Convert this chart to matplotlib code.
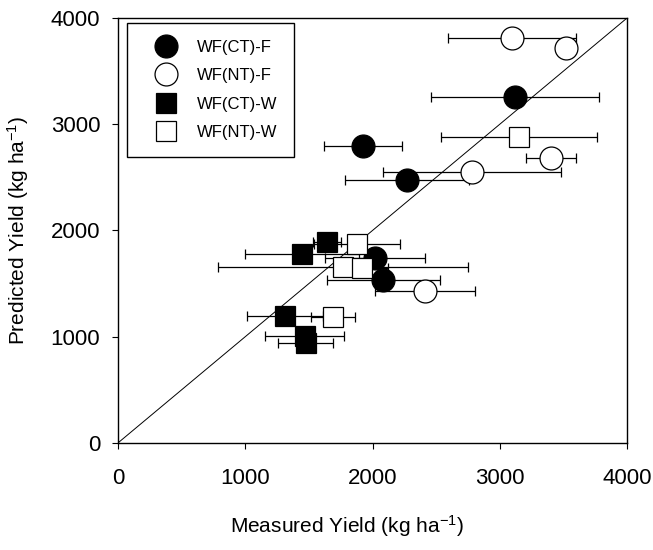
import matplotlib
matplotlib.use("Agg")
import matplotlib.pyplot as plt
from matplotlib.lines import Line2D

plt.rcParams['font.family'] = ['Liberation Sans', 'DejaVu Sans']
plt.rcParams['mathtext.default'] = 'regular'

# WF(CT)-F : filled circles
ct_f_x = [3120, 1925, 2271, 2020, 2083]
ct_f_y = [3257, 2795, 2475, 1741, 1534]
ct_f_err = [664, 307, 490, 393, 445]
# WF(NT)-F : open circles
nt_f_x = [3096, 3521, 3403, 2782, 2413]
nt_f_y = [3812, 3718, 2682, 2550, 1431]
nt_f_err = [500, 60, 193, 700, 390]
# WF(CT)-W : filled squares
ct_w_x = [1642, 1446, 1312, 1466, 1473]
ct_w_y = [1892, 1779, 1195, 1005, 935]
ct_w_err = [110, 450, 300, 310, 215]
# WF(NT)-W : open squares
nt_w_x = [3151, 1878, 1768, 1918, 1690]
nt_w_y = [2880, 1873, 1656, 1647, 1186]
nt_w_err = [613, 338, 982, 200, 172]

labels = ['WF(CT)-F', 'WF(NT)-F', 'WF(CT)-W', 'WF(NT)-W']
ticks = [0, 1000, 2000, 3000, 4000]

series = [
    (ct_f_x, ct_f_y, ct_f_err, 'o', 'black', 16.5),
    (nt_f_x, nt_f_y, nt_f_err, 'o', 'white', 16.5),
    (ct_w_x, ct_w_y, ct_w_err, 's', 'black', 14.5),
    (nt_w_x, nt_w_y, nt_w_err, 's', 'white', 14.5),
]

fig = plt.figure(figsize=(6.53, 5.5), dpi=100)
ax = fig.add_axes([0.181, 0.195, 0.779, 0.772])

ax.plot([0, 4000], [0, 4000], color='black', lw=0.7, zorder=1)

for x, y, e, m, fc, ms in series:
    ax.errorbar(x, y, xerr=e, fmt='none', ecolor='black', elinewidth=0.9,
                capsize=3.5, capthick=0.9, zorder=2)
for x, y, e, m, fc, ms in series:
    ax.plot(x, y, linestyle='none', marker=m, markersize=ms,
            markerfacecolor=fc, markeredgecolor='black', markeredgewidth=0.9,
            zorder=3)

ax.set_xlim(0, 4000)
ax.set_ylim(0, 4000)
ax.set_xticks(ticks)
ax.set_yticks(ticks)
ax.tick_params(direction='out', length=4, width=0.8, labelsize=16)
ax.tick_params(axis='x', pad=14)
ax.tick_params(axis='y', pad=9)
for s in ax.spines.values():
    s.set_linewidth(1.0)

ax.set_xlabel('Measured Yield (kg ha$^{-1}$)', fontsize=15)
ax.set_ylabel('Predicted Yield (kg ha$^{-1}$)', fontsize=15)
ax.xaxis.set_label_coords(0.45, -0.165)
ax.yaxis.set_label_coords(-0.172, 0.5)

handles = [Line2D([], [], linestyle='none', marker=m, markersize=ms,
                  markerfacecolor=fc, markeredgecolor='black', markeredgewidth=0.9)
           for x, y, e, m, fc, ms in series]
leg = ax.legend(handles, labels, loc='upper left', bbox_to_anchor=(0.018, 0.988),
                borderaxespad=0, fontsize=12, frameon=True, fancybox=False,
                framealpha=1, edgecolor='black', handletextpad=0.56,
                labelspacing=0.8, borderpad=1.0, handlelength=2.6)
leg.get_frame().set_linewidth(1.0)

fig.savefig('out.png', dpi=100)
